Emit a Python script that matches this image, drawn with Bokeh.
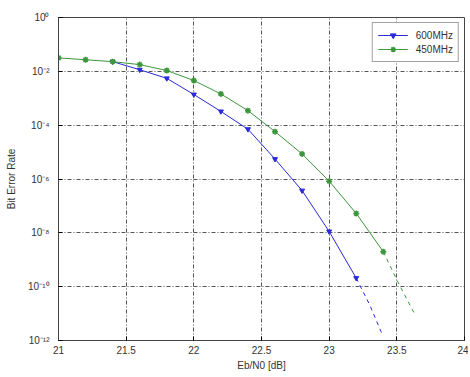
from bokeh.plotting import figure
from bokeh.models import FixedTicker, Legend, LegendItem, CustomJSTickFormatter, Range1d
from bokeh.embed import file_html
from bokeh.resources import INLINE

# 600 MHz (simulated points, then extrapolated tail)
snr_600 = [21.4, 21.6, 21.8, 22.0, 22.2, 22.4, 22.6, 22.8, 23.0, 23.2]
ber_600 = [10**e for e in [-1.64, -1.94, -2.26, -2.86, -3.49, -4.15, -5.26, -6.43, -7.95, -9.68]]
snr_600_ext = [23.2, 23.3, 23.39]
ber_600_ext = [10**e for e in [-9.68, -10.68, -11.75]]

# 450 MHz
snr_450 = [21.0, 21.2, 21.4, 21.6, 21.8, 22.0, 22.2, 22.4, 22.6, 22.8, 23.0, 23.2, 23.4]
ber_450 = [10**e for e in [-1.50, -1.57, -1.64, -1.75, -1.97, -2.34, -2.84, -3.46, -4.24, -5.07, -6.08, -7.28, -8.70]]
snr_450_ext = [23.4, 23.5, 23.63]
ber_450_ext = [10**e for e in [-8.70, -9.75, -11.0]]

x_ticks = [21, 21.5, 22, 22.5, 23, 23.5, 24]
y_ticks = [1e0, 1e-2, 1e-4, 1e-6, 1e-8, 1e-10, 1e-12]

BLUE = "#2a2ad8"
GREEN = "#3c963c"
FONT = "Liberation Sans"
TXT = "#333333"

p = figure(frame_width=406, frame_height=323, y_axis_type="log",
           x_range=Range1d(21, 24), y_range=Range1d(1e-12, 1),
           output_backend="svg", toolbar_location=None,
           min_border_left=58, min_border_right=4, min_border_top=17, min_border_bottom=28,
           background_fill_color="white", border_fill_color="white")

p.outline_line_color = "#444444"
p.outline_line_width = 1

for ax in (p.xaxis, p.yaxis):
    ax.axis_line_color = "#444444"
    ax.major_tick_in = 4
    ax.major_tick_out = 0
    ax.minor_tick_line_color = None
    ax.major_label_text_font = FONT
    ax.major_label_text_font_size = "10px"
    ax.major_label_text_color = TXT
    ax.axis_label_text_font = FONT
    ax.axis_label_text_font_size = "10px"
    ax.axis_label_text_font_style = "normal"
    ax.axis_label_text_color = TXT

p.xaxis.ticker = FixedTicker(ticks=x_ticks)
p.yaxis.ticker = FixedTicker(ticks=y_ticks)
p.yaxis.formatter = CustomJSTickFormatter(code="""
const sup = {'0':'\u2070','1':'\u00b9','2':'\u00b2','3':'\u00b3','4':'\u2074','5':'\u2075','6':'\u2076','7':'\u2077','8':'\u2078','9':'\u2079','-':'\u207b'};
const e = Math.round(Math.log10(tick));
return '10' + String(e).split('').map(c => sup[c]).join('');
""")
p.xaxis.axis_label = "Eb/N0 [dB]"
p.yaxis.axis_label = "Bit Error Rate"
p.xaxis.major_label_standoff = 5
p.yaxis.major_label_standoff = 9
p.xaxis.axis_label_standoff = 3
p.yaxis.axis_label_standoff = 8

for g in (p.xgrid, p.ygrid):
    g.grid_line_color = "#555555"
    g.grid_line_dash = "4 2 1 2"
    g.grid_line_width = 1

l1 = p.line(snr_600, ber_600, line_color=BLUE, line_width=1)
m1 = p.scatter(snr_600, ber_600, marker="inverted_triangle", size=5, color=BLUE)
p.line(snr_600_ext, ber_600_ext, line_color=BLUE, line_width=1, line_dash="4 4")

l2 = p.line(snr_450, ber_450, line_color=GREEN, line_width=1)
m2 = p.scatter(snr_450, ber_450, marker="asterisk", size=6, line_width=1.5, color=GREEN)
p.line(snr_450_ext, ber_450_ext, line_color=GREEN, line_width=1, line_dash="4 4")

legend = Legend(items=[LegendItem(label="600MHz", renderers=[l1, m1]),
                       LegendItem(label="450MHz", renderers=[l2, m2])],
                location="top_right", margin=5, padding=5, spacing=0,
                glyph_width=30, glyph_height=14, label_height=14, label_standoff=8,
                label_text_font=FONT, label_text_font_size="10px", label_text_color=TXT,
                border_line_color="#444444", background_fill_alpha=1)
p.add_layout(legend)

open("out.html", "w").write(file_html(p, INLINE))
